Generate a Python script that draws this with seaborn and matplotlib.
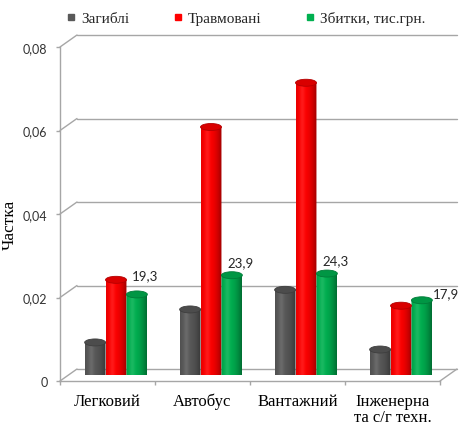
import numpy as np
import pandas as pd
import matplotlib
matplotlib.use("Agg")
import matplotlib.pyplot as plt
import matplotlib.transforms as mtransforms
from matplotlib.path import Path
from matplotlib.patches import PathPatch, Ellipse
from matplotlib.lines import Line2D
import seaborn as sns

# ---- data -------------------------------------------------------------
categories = ["Легковий", "Автобус", "Вантажний", "Інженерна\nта с/г техн."]
series = ["Загиблі", "Травмовані", "Збитки, тис.грн."]
killed = [0.0078, 0.0157, 0.0204, 0.0061]
injured = [0.0228, 0.0594, 0.0700, 0.0166]
damage_thousands = [19.3, 23.9, 24.3, 17.9]      # тис. грн, drawn at 1/1000 scale
y_ticks = [0, 0.02, 0.04, 0.06, 0.08]
y_tick_labels = ["0", "0,02", "0,04", "0,06", "0,08"]
colors = ["#595959", "#FF0000", "#00B050"]

df = pd.DataFrame({
    "category": categories * 3,
    "series": [series[0]] * 4 + [series[1]] * 4 + [series[2]] * 4,
    "value": killed + injured + [v / 1000 for v in damage_thousands],
})

# ---- style ------------------------------------------------------------
sns.set_theme(style="white")
plt.rcParams["font.family"] = ["Liberation Serif", "DejaVu Serif"]
GRID = "#A6A6A6"
NUM_FONT = ["Lato", "DejaVu Sans"]

W, H, DPI = 460, 427, 100
fig = plt.figure(figsize=(W / DPI, H / DPI), dpi=DPI)
fig.patch.set_facecolor("white")


def box(left, right, top, bottom):
    return [left / W, 1 - bottom / H, (right - left) / W, (bottom - top) / H]


DEPTH_X, DEPTH_Y = 17, 12          # oblique depth of the 3-D box, pixels

# front frame (value axis, floor edge, category labels)
ax = fig.add_axes(box(60, 440, 48, 382))
# bars stand half way into the box
axb = fig.add_axes(box(60 + DEPTH_X / 2, 440 + DEPTH_X / 2,
                       48 - DEPTH_Y / 2, 382 - DEPTH_Y / 2))

for a in (ax, axb):
    a.set_xlim(-0.5, len(categories) - 0.5)
    a.set_ylim(y_ticks[0], y_ticks[-1])
    a.patch.set_alpha(0)

# ---- frame ------------------------------------------------------------
for s in ("top", "right"):
    ax.spines[s].set_visible(False)
for s in ("left", "bottom"):
    ax.spines[s].set_color(GRID)
    ax.spines[s].set_linewidth(1.0)

ax.set_yticks(y_ticks)
ax.set_yticklabels(y_tick_labels, family=NUM_FONT, fontsize=9, color="#333333")
ax.tick_params(axis="y", length=3, width=1, color=GRID, pad=6, left=True)
ax.set_xticks(range(len(categories)))
ax.set_xticklabels(categories, fontsize=12, color="black", linespacing=1.0)
ax.set_xticks(np.arange(-0.5, len(categories)), minor=True)
ax.tick_params(axis="x", which="major", length=0, pad=8.5)
ax.tick_params(axis="x", which="minor", length=3, width=1, color=GRID,
               bottom=True)
ax.set_ylabel("Частка", fontsize=12.5, color="black")
ax.yaxis.set_label_coords(-0.11, 0.47)

back = mtransforms.offset_copy(ax.transData, fig=fig, x=DEPTH_X, y=DEPTH_Y,
                               units="dots")
x_lo, x_hi = ax.get_xlim()
ident = mtransforms.IdentityTransform()
for v in y_ticks:
    ax.plot([x_lo, x_hi], [v, v], transform=back, color=GRID, lw=1.0,
            clip_on=False, zorder=1)
    p0 = ax.transData.transform((x_lo, v))
    fig.add_artist(Line2D([p0[0], p0[0] + DEPTH_X], [p0[1], p0[1] + DEPTH_Y],
                          transform=ident, color=GRID, lw=1.0))
p0 = ax.transData.transform((x_hi, 0))
fig.add_artist(Line2D([p0[0], p0[0] + DEPTH_X], [p0[1], p0[1] + DEPTH_Y],
                      transform=ident, color=GRID, lw=1.0))

# ---- bars -------------------------------------------------------------
sns.barplot(data=df, x="category", y="value", hue="series", order=categories,
            hue_order=series, palette=colors, width=0.66, gap=0,
            saturation=1, legend=False, ax=axb)
axb.set_xlim(-0.5, len(categories) - 0.5)
axb.set_ylim(y_ticks[0], y_ticks[-1])
axb.axis("off")

px_per_unit = axb.bbox.height / (y_ticks[-1] - y_ticks[0])
eh = 7 / px_per_unit               # height of the cylinder caps, data units

s = np.linspace(0, 1, 64)
profile = 1 - 0.38 * (np.abs(s - 0.33) / 0.67) ** 2
glow = 0.10 * np.exp(-((s - 0.3) / 0.12) ** 2)


def cylinder(p):
    x0, w, h = p.get_x(), p.get_width(), p.get_height()
    base = np.array(p.get_facecolor()[:3])
    p.set_visible(False)
    t = np.linspace(0, np.pi, 40)
    verts = [(x0, h), (x0, 0)]
    verts += [(x0 + w / 2 * (1 - np.cos(tt)), -eh / 2 * np.sin(tt)) for tt in t]
    verts += [(x0 + w, h), (x0, h)]
    codes = [Path.MOVETO] + [Path.LINETO] * (len(verts) - 2) + [Path.CLOSEPOLY]
    body = PathPatch(Path(verts, codes), facecolor="none", edgecolor="none")
    axb.add_patch(body)
    rgb = base[None, :] * profile[:, None]
    rgb = rgb + (1 - rgb) * glow[:, None]
    img = np.clip(rgb, 0, 1)[None, :, :]
    im = axb.imshow(img, extent=(x0, x0 + w, -eh / 2, h), aspect="auto",
                    origin="lower", interpolation="bilinear", zorder=3)
    im.set_clip_path(body)
    axb.add_patch(Ellipse((x0 + w / 2, h), w, eh, facecolor=base * 0.85,
                          edgecolor=base * 0.7, lw=0.6, zorder=4))


damage_bars = list(axb.containers[2])
for p in list(axb.patches):
    cylinder(p)

axb.set_xlim(-0.5, len(categories) - 0.5)
axb.set_ylim(y_ticks[0], y_ticks[-1])

# value labels for the damage series (offsets in pixels from the cap)
label_offsets = [(8, 19), (8.5, 13), (8.5, 13), (24, 7)]
for p, v, (dx, dy) in zip(damage_bars, damage_thousands, label_offsets):
    axb.annotate(f"{v:.1f}".replace(".", ","),
                 xy=(p.get_x() + p.get_width() / 2, p.get_height()),
                 xytext=(dx * 72 / DPI, dy * 72 / DPI), textcoords="offset points",
                 ha="center", va="center", family=NUM_FONT, fontsize=9.5,
                 color="#262626", annotation_clip=False)

# ---- legend -----------------------------------------------------------
handles = [Line2D([0], [0], marker="s", ls="none", markersize=4.5,
                  markerfacecolor=c, markeredgecolor=c) for c in colors]
fig.legend(handles, series, loc="center", bbox_to_anchor=(0.535, 0.955),
           ncol=3, frameon=False, fontsize=11, handlelength=0.6,
           handletextpad=0.35, columnspacing=2.9)

fig.savefig("out.png", dpi=DPI, facecolor="white")
